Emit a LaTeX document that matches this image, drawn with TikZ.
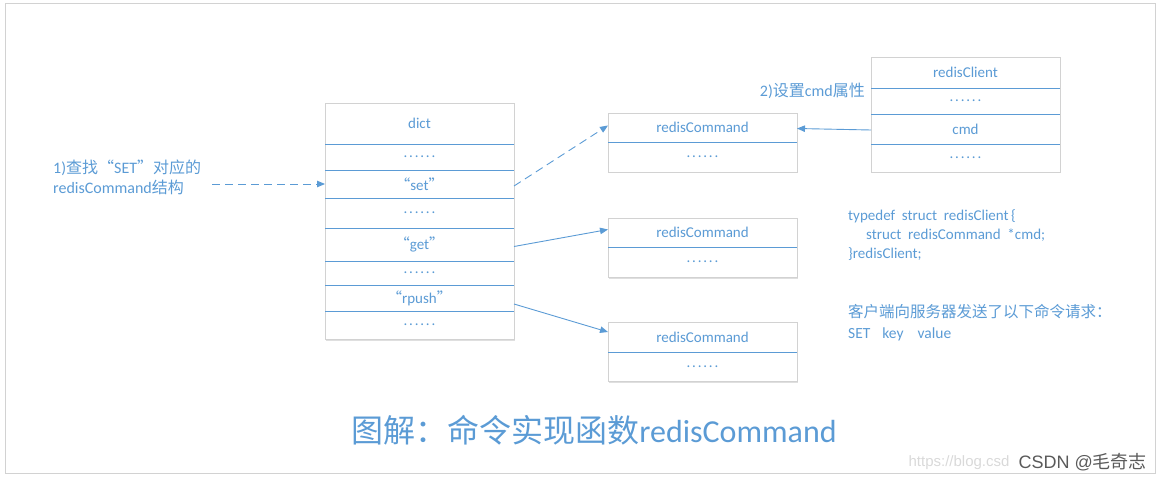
\documentclass[tikz,border=0pt]{standalone}
\usepackage{fontspec}
\setmainfont{Carlito}
\newfontfamily\zhfont{Noto Sans CJK SC}
\newfontfamily\wmfont{Liberation Sans}
\usetikzlibrary{positioning,backgrounds,shadows,arrows.meta}
\definecolor{lanse}{HTML}{5B9BD5}
\definecolor{kuang}{HTML}{D2D2D2}
\definecolor{shuiyin}{HTML}{5A5A5A}
\newcommand{\dotrow}{.\kern1.8pt.\kern1.8pt.\kern1.8pt.\kern1.8pt.\kern1.8pt.}
\newcommand{\zq}[1]{{\zhfont “}#1{\zhfont ”}}

\begin{document}
\begin{tikzpicture}[x=1pt,y=-1pt,
    >={Triangle[length=8pt,width=6.5pt]},
    cell/.style={minimum width=189pt,inner sep=0pt,outer sep=0pt,text=lanse,font=\fontsize{15}{17}\selectfont},
    tbl/.style={draw=kuang,line width=0.9pt,fill=white,
      drop shadow={shadow xshift=1pt,shadow yshift=-1.5pt,opacity=0.25,fill=gray}},
    sep/.style={draw=lanse,line width=0.9pt},
    lnk/.style={->,draw=lanse,line width=0.9pt},
    lbl/.style={text=lanse,inner sep=0pt,align=left,font=\fontsize{15.5}{20}\selectfont},
  ]
  \useasboundingbox (0,0) rectangle (1161,481);
  \draw[draw=gray!35,line width=0.8pt] (5,3) rectangle (1155,473);

  % dict
  \node[cell,minimum height=41pt,anchor=north] (d1) at (419.5,103) {dict};
  \node[cell,minimum height=26pt,below=0pt of d1] (d2) {\dotrow};
  \node[cell,minimum height=28pt,below=0pt of d2] (d3) {\zq{set}};
  \node[cell,minimum height=30pt,below=0pt of d3] (d4) {\dotrow};
  \node[cell,minimum height=33pt,below=0pt of d4] (d5) {\zq{get}};
  \node[cell,minimum height=24pt,below=0pt of d5] (d6) {\dotrow};
  \node[cell,minimum height=26pt,below=0pt of d6] (d7) {\zq{rpush}};
  \node[cell,minimum height=28pt,below=0pt of d7] (d8) {\dotrow};

  % redisCommand
  \node[cell,minimum height=29pt,anchor=north] (sa) at (702.5,113) {redisCommand};
  \node[cell,minimum height=30pt,below=0pt of sa] (sb) {\dotrow};
  \node[cell,minimum height=29pt,anchor=north] (ga) at (702.5,218) {redisCommand};
  \node[cell,minimum height=30pt,below=0pt of ga] (gb) {\dotrow};
  \node[cell,minimum height=30pt,anchor=north] (ra) at (702.5,322) {redisCommand};
  \node[cell,minimum height=29pt,below=0pt of ra] (rb) {\dotrow};

  % redisClient
  \node[cell,minimum height=31pt,anchor=north] (ca) at (965.5,57) {redisClient};
  \node[cell,minimum height=26pt,below=0pt of ca] (cb) {\dotrow};
  \node[cell,minimum height=30pt,below=0pt of cb] (cc) {cmd};
  \node[cell,minimum height=28pt,below=0pt of cc] (cd) {\dotrow};

  \begin{scope}[on background layer]
    \draw[tbl] (d1.north west) rectangle (d8.south east);
    \draw[tbl] (sa.north west) rectangle (sb.south east);
    \draw[tbl] (ga.north west) rectangle (gb.south east);
    \draw[tbl] (ra.north west) rectangle (rb.south east);
    \draw[tbl] (ca.north west) rectangle (cd.south east);
  \end{scope}
  \foreach \n in {d1,d2,d3,d4,d5,d6,d7,sa,ga,ra,ca,cb,cc}
    \draw[sep] (\n.south west) -- (\n.south east);

  % labels
  \node[lbl,anchor=west,font=\fontsize{16}{20}\selectfont] (find) at (53,177) {1){\zhfont 查找}\zq{SET}{\zhfont 对应的}\\redisCommand{\zhfont 结构}};
  \coordinate (q) at (212,184);
  \node[lbl,anchor=east,font=\fontsize{16}{20}\selectfont] (setcmd) at (865,91) {2){\zhfont 设置}cmd{\zhfont 属性}};
  \node[lbl,anchor=north west,font=\fontsize{15}{19}\selectfont] (code) at (848,209)
    {typedef\ \ struct\ \ redisClient\,\{\\\hspace{18pt}struct\ \ redisCommand\ \ *cmd;\\\}redisClient;};
  \node[lbl,anchor=north west,font=\fontsize{15.5}{21}\selectfont] (req) at (848,304)
    {{\zhfont 客户端向服务器发送了以下命令请求：}\\SET\hspace{12pt}key\hspace{14pt}value};

  % arrows
  \draw[lnk,dash pattern=on 8pt off 5pt] (q) -- (d3.west);
  \draw[lnk,dash pattern=on 8pt off 5pt] ([yshift=-2pt]d3.east) -- ([yshift=2pt]sa.west);
  \draw[lnk] ([yshift=-2pt]d5.east) -- ([yshift=3pt]ga.west);
  \draw[lnk] ([yshift=-6pt]d7.east) -- ([yshift=5pt]ra.west);
  \draw[lnk] ([yshift=-1pt]cc.west) -- ([yshift=-1pt]sa.east);

  % title
  \node[text=lanse,font=\fontsize{32}{36}\selectfont] (title) at (594,430)
    {{\zhfont 图解：命令实现函数}redisCommand};
  \node[text=gray!30,font=\wmfont\fontsize{15}{17}\selectfont,anchor=east] (url) at (1013,463) {https://blog.csd};
  \node[text=shuiyin,font=\wmfont\fontsize{18}{20}\selectfont,anchor=west] (wm) at (1015,462) {CSDN @{\zhfont 毛奇志}};
\end{tikzpicture}
\end{document}
